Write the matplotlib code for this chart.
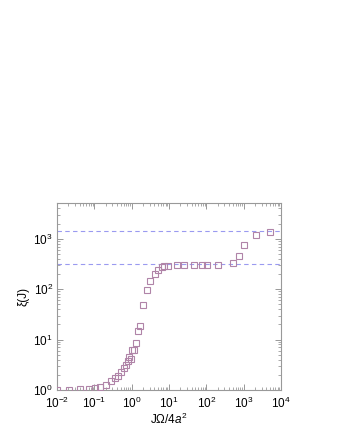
import numpy as np
import matplotlib
matplotlib.use("Agg")
import matplotlib.pyplot as plt
from matplotlib.ticker import LogLocator, NullFormatter

plt.rcParams['font.family'] = ['Liberation Sans', 'DejaVu Sans']
plt.rcParams['mathtext.fontset'] = 'custom'
plt.rcParams['mathtext.rm'] = 'Liberation Sans'
plt.rcParams['mathtext.it'] = 'Liberation Sans:italic'

# data
x_vals = [0.01, 0.021, 0.041, 0.072, 0.105, 0.142, 0.20, 0.275, 0.36, 0.43,
          0.52, 0.62, 0.71, 0.77, 0.84, 0.93, 1.02, 1.16, 1.26, 1.43,
          1.66, 2.05, 2.63, 3.1, 4.15, 5.1, 6.3, 7.3, 9.4, 15.9,
          25.4, 47, 77, 103, 207, 525, 730, 1030, 2090, 5130]
xi_vals = [1.0, 1.0, 1.03, 1.03, 1.1, 1.15, 1.28, 1.49, 1.73, 1.9,
           2.27, 2.69, 3.18, 3.8, 4.45, 4.1, 6.2, 6.3, 8.7, 14.7,
           18.6, 49, 96, 144, 203, 245, 274, 288, 294, 308,
           308, 308, 308, 308, 308, 336, 462, 742, 1170, 1365]
plateau_levels = [314, 1400]

fig = plt.figure(figsize=(3.4, 4.4), dpi=100)
ax = fig.add_axes([0.168, 0.1136, 0.659, 0.425])

for lev in plateau_levels:
    ax.axhline(lev, color='#9a9af0', linestyle=(0, (4, 3)), linewidth=0.8, zorder=1)

ax.plot(x_vals, xi_vals, linestyle='none', marker='s', markersize=4.6,
        markerfacecolor='none', markeredgecolor='#b084a8', markeredgewidth=0.8, zorder=3)

ax.set_xscale('log')
ax.set_yscale('log')
ax.set_xlim(1e-2, 1e4)
ax.set_ylim(1, 5100)

ax.xaxis.set_major_locator(LogLocator(base=10, numticks=10))
ax.xaxis.set_minor_locator(LogLocator(base=10, subs=np.arange(2, 10), numticks=10))
ax.yaxis.set_major_locator(LogLocator(base=10, numticks=10))
ax.yaxis.set_minor_locator(LogLocator(base=10, subs=np.arange(2, 10), numticks=10))
ax.xaxis.set_minor_formatter(NullFormatter())
ax.yaxis.set_minor_formatter(NullFormatter())

ax.tick_params(which='both', direction='in', top=True, right=True,
               color='#888888', labelsize=8.5)
ax.tick_params(axis='x', pad=4)
ax.tick_params(axis='y', pad=3)
ax.tick_params(which='major', length=4, width=0.6)
ax.tick_params(which='minor', length=2, width=0.5)
for s in ax.spines.values():
    s.set_color('#999999')
    s.set_linewidth(0.8)

ax.set_xlabel('J\u03a9/4$a^2$', fontsize=8.5, labelpad=0.5)
ax.set_ylabel('\u03be(J)', fontsize=8.5, labelpad=3)

fig.savefig('out.png', dpi=100)
